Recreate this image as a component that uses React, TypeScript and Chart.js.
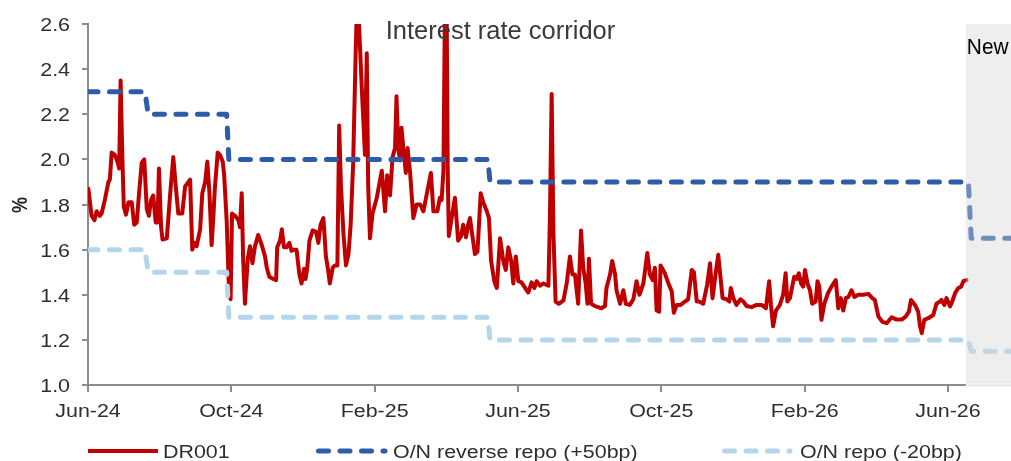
import React, { useEffect, useRef } from 'react';
import { Chart, registerables } from 'chart.js';

Chart.register(...registerables);

// x positions are months since 1 Jun 2024
const xTickMonths = [0, 4, 8, 12, 16, 20, 24];
const xTickLabels = ['Jun-24', 'Oct-24', 'Feb-25', 'Jun-25', 'Oct-25', 'Feb-26', 'Jun-26'];
const yTickValues = [1.0, 1.2, 1.4, 1.6, 1.8, 2.0, 2.2, 2.4, 2.6];
const xMaxMonth = 25.76;
const newPeriodStart = 24.5;

const seriesNames = ['DR001', 'O/N reverse repo (+50bp)', 'O/N repo (-20bp)'];

// DR001 (%), [month, value]
const dr001: [number, number][] = [
  [0.01, 1.87], [0.10, 1.75], [0.18, 1.73], [0.24, 1.77], [0.33, 1.75], [0.38, 1.76], [0.47, 1.82], [0.57, 1.90],
  [0.61, 1.91], [0.66, 2.03], [0.75, 2.02], [0.83, 1.985], [0.87, 1.96], [0.91, 2.35], [0.96, 2.00], [1.00, 1.79],
  [1.06, 1.755], [1.13, 1.81], [1.22, 1.81], [1.29, 1.71], [1.36, 1.72], [1.42, 1.84], [1.50, 1.985], [1.57, 2.00],
  [1.64, 1.78], [1.70, 1.75], [1.76, 1.82], [1.82, 1.84], [1.89, 1.72], [1.94, 1.72], [1.98, 1.96], [2.04, 1.70],
  [2.08, 1.645], [2.20, 1.65], [2.29, 1.84], [2.38, 2.01], [2.45, 1.88], [2.52, 1.76], [2.63, 1.76], [2.71, 1.88],
  [2.85, 1.91], [2.91, 1.60], [2.97, 1.63], [3.03, 1.615], [3.13, 1.69], [3.19, 1.85], [3.27, 1.90], [3.33, 1.99],
  [3.39, 1.85], [3.45, 1.62], [3.50, 1.75], [3.54, 1.87], [3.62, 2.03], [3.68, 2.02], [3.76, 1.99], [3.80, 1.93],
  [3.87, 1.73], [3.93, 1.44], [3.98, 1.38], [4.02, 1.76], [4.10, 1.75], [4.20, 1.73], [4.24, 1.70], [4.29, 1.85],
  [4.33, 1.56], [4.38, 1.36], [4.46, 1.56], [4.52, 1.615], [4.59, 1.54], [4.66, 1.615], [4.75, 1.665], [4.85, 1.62],
  [4.94, 1.57],
  [4.99, 1.52], [5.06, 1.48], [5.17, 1.47], [5.25, 1.465], [5.28, 1.61], [5.36, 1.64], [5.41, 1.69], [5.47, 1.61],
  [5.54, 1.61], [5.62, 1.63], [5.68, 1.595], [5.75, 1.60], [5.82, 1.60], [5.90, 1.49], [5.96, 1.45], [6.03, 1.515],
  [6.07, 1.47], [6.12, 1.52], [6.18, 1.64], [6.27, 1.685], [6.36, 1.68], [6.43, 1.63], [6.49, 1.71], [6.57, 1.74],
  [6.64, 1.57], [6.70, 1.51], [6.75, 1.45], [6.83, 1.52], [6.89, 1.53], [6.96, 1.53], [7.01, 2.15], [7.06, 1.88],
  [7.13, 1.67], [7.20, 1.53], [7.27, 1.58], [7.33, 1.71], [7.40, 1.98], [7.47, 2.47], [7.50, 2.65], [7.55, 2.65],
  [7.64, 2.32], [7.73, 2.02], [7.78, 2.47], [7.82, 1.88], [7.87, 1.65], [7.94, 1.76], [8.06, 1.83], [8.20, 1.95],
  [8.29, 1.77], [8.35, 1.93], [8.43, 1.84], [8.50, 2.01], [8.57, 2.05], [8.61, 2.28], [8.66, 2.05], [8.71, 1.995],
  [8.75, 2.14], [8.80, 2.05], [8.87, 1.94], [8.92, 2.05], [8.99, 1.94], [9.08, 1.74], [9.17, 1.80], [9.27, 1.80],
  [9.36, 1.77], [9.46, 1.85], [9.57, 1.94], [9.64, 1.77], [9.75, 1.77], [9.82, 1.83],
  [9.87, 1.82], [9.92, 1.95], [9.96, 2.65], [10.01, 2.65], [10.04, 1.95], [10.07, 1.66], [10.15, 1.74], [10.24, 1.83],
  [10.33, 1.64], [10.41, 1.66], [10.47, 1.71], [10.55, 1.655], [10.61, 1.71], [10.66, 1.74], [10.72, 1.67], [10.80, 1.58],
  [10.87, 1.59], [10.96, 1.85], [11.03, 1.81], [11.13, 1.77], [11.19, 1.74], [11.25, 1.55], [11.34, 1.46], [11.41, 1.43],
  [11.50, 1.65], [11.59, 1.55], [11.66, 1.51], [11.73, 1.61], [11.81, 1.55], [11.87, 1.45], [11.94, 1.57], [12.01, 1.46],
  [12.10, 1.455], [12.20, 1.43], [12.29, 1.41], [12.38, 1.455], [12.46, 1.43], [12.52, 1.46], [12.62, 1.44], [12.71, 1.45],
  [12.85, 1.44], [12.89, 1.73], [12.94, 2.29], [12.99, 1.67], [13.05, 1.37], [13.14, 1.36], [13.27, 1.375], [13.36, 1.45],
  [13.45, 1.57], [13.52, 1.49], [13.59, 1.49], [13.68, 1.36], [13.76, 1.685], [13.82, 1.52], [13.89, 1.45], [13.94, 1.36],
  [13.98, 1.56], [14.04, 1.36], [14.15, 1.35], [14.24, 1.345], [14.33, 1.34], [14.43, 1.35], [14.47, 1.43], [14.57, 1.49],
  [14.63, 1.55], [14.71, 1.49],
  [14.75, 1.42], [14.85, 1.36], [14.94, 1.42], [15.01, 1.36], [15.12, 1.355], [15.22, 1.38], [15.31, 1.46], [15.39, 1.40],
  [15.50, 1.45], [15.61, 1.585], [15.68, 1.49], [15.76, 1.465], [15.82, 1.52], [15.87, 1.33], [15.94, 1.325], [15.98, 1.53],
  [16.10, 1.495], [16.20, 1.45], [16.29, 1.415], [16.35, 1.32], [16.43, 1.355], [16.54, 1.355], [16.66, 1.37], [16.75, 1.38],
  [16.85, 1.51], [16.91, 1.50], [16.99, 1.37], [17.06, 1.37], [17.17, 1.36], [17.28, 1.445], [17.36, 1.54], [17.43, 1.385],
  [17.53, 1.51], [17.59, 1.577], [17.66, 1.465], [17.71, 1.385], [17.82, 1.38], [17.90, 1.37], [17.94, 1.43], [18.01, 1.385],
  [18.10, 1.355], [18.21, 1.38], [18.29, 1.37], [18.38, 1.35], [18.52, 1.345], [18.66, 1.355], [18.80, 1.355], [18.92, 1.34],
  [19.01, 1.46], [19.06, 1.355], [19.12, 1.26], [19.20, 1.33], [19.31, 1.355], [19.40, 1.40], [19.47, 1.495], [19.52, 1.37],
  [19.59, 1.385],
  [19.71, 1.48], [19.78, 1.47], [19.84, 1.495], [19.90, 1.45], [19.96, 1.436], [20.01, 1.51], [20.08, 1.45], [20.15, 1.42],
  [20.21, 1.36], [20.31, 1.37], [20.36, 1.46], [20.41, 1.436], [20.47, 1.289], [20.55, 1.36], [20.66, 1.41], [20.75, 1.436],
  [20.87, 1.465], [20.94, 1.34], [21.01, 1.385], [21.08, 1.33], [21.15, 1.385], [21.22, 1.39], [21.31, 1.42], [21.39, 1.39],
  [21.50, 1.40], [21.64, 1.40], [21.78, 1.404], [21.89, 1.385], [21.96, 1.377], [22.06, 1.303], [22.17, 1.28], [22.29, 1.274],
  [22.43, 1.30], [22.57, 1.29], [22.71, 1.29], [22.82, 1.303], [22.91, 1.325], [22.97, 1.377], [23.08, 1.355], [23.17, 1.325],
  [23.22, 1.26], [23.27, 1.23], [23.34, 1.289], [23.45, 1.296], [23.59, 1.31], [23.68, 1.36], [23.78, 1.37], [23.82, 1.377],
  [23.90, 1.355], [23.96, 1.385], [24.06, 1.348], [24.12, 1.37], [24.20, 1.407], [24.29, 1.43], [24.37, 1.436], [24.43, 1.46],
  [24.52, 1.465],
];

// O/N reverse repo (+50bp), [month, value]
const reverseRepo: [number, number][] = [
  [0, 2.3], [1.59, 2.3], [1.68, 2.2], [3.87, 2.2], [3.93, 2.0], [11.16, 2.0], [11.22, 1.9], [24.57, 1.9], [24.65, 1.65], [25.76, 1.65],
];

// O/N repo (-20bp), [month, value]
const onRepo: [number, number][] = [
  [0, 1.6], [1.59, 1.6], [1.68, 1.5], [3.87, 1.5], [3.93, 1.3], [11.16, 1.3], [11.22, 1.2], [24.57, 1.2], [24.65, 1.15], [25.76, 1.15],
];

const RED = '#C00000';
const BLUE = '#2E5CA8';
const LIGHT = '#B4D5EB';
const AXIS = '#8C8C8C';
const DASH = [10, 11.5];
const FONT = '"Liberation Sans", Arial, sans-serif';

function drawText(
  ctx: CanvasRenderingContext2D,
  s: string,
  x: number,
  y: number,
  size: number,
  color: string,
  align: CanvasTextAlign,
  sx: number,
  bold = false,
) {
  ctx.save();
  ctx.translate(x, y);
  ctx.scale(sx, 1);
  ctx.font = `${bold ? 'bold ' : ''}${size}px ${FONT}`;
  ctx.fillStyle = color;
  ctx.textAlign = align;
  ctx.textBaseline = 'alphabetic';
  ctx.fillText(s, 0, 0);
  ctx.restore();
}

const decoPlugin = {
  id: 'deco',
  afterDatasetsDraw(chart: any) {
    const { ctx, chartArea: a, scales } = chart;
    const x0 = scales.x.getPixelForValue(newPeriodStart);
    ctx.save();
    ctx.fillStyle = 'rgba(212,212,212,0.4)';
    ctx.fillRect(x0, a.top, a.right - x0, a.bottom - a.top - 1.5);
    ctx.fillStyle = '#EEEEEE';
    ctx.fillRect(x0, a.bottom - 1.5, a.right - x0, 3.5);
    ctx.restore();
  },
  afterDraw(chart: any) {
    const { ctx, chartArea: a, scales } = chart;
    const sx = 1.19;
    // y tick labels
    yTickValues.forEach((v) => {
      drawText(ctx, v.toFixed(1), a.left - 18, scales.y.getPixelForValue(v) + 7, 18, '#2E2E2E', 'right', sx);
    });
    // x tick labels
    xTickMonths.forEach((m, i) => {
      drawText(ctx, xTickLabels[i], scales.x.getPixelForValue(m), 417, 18, '#2E2E2E', 'center', sx);
    });
    // y axis title
    ctx.save();
    ctx.translate(27, 205);
    ctx.scale(1.2, 1);
    ctx.rotate(-Math.PI / 2);
    ctx.font = `bold 18px ${FONT}`;
    ctx.fillStyle = '#262626';
    ctx.textAlign = 'center';
    ctx.textBaseline = 'alphabetic';
    ctx.fillText('%', 0, 0);
    ctx.restore();
    // title
    drawText(ctx, 'Interest rate corridor', 500.5, 39, 25.5, '#3A3A3A', 'center', 1.0);
    // "New" label
    drawText(ctx, 'New', scales.x.getPixelForValue(newPeriodStart) + 1, 54, 21.5, '#000000', 'left', 0.97);
    // legend
    const ly = 451;
    const items = [
      { x0: 88, x1: 158, tx: 163, color: RED, dash: [] as number[] },
      { x0: 316, x1: 385, tx: 393, color: BLUE, dash: DASH },
      { x0: 722, x1: 790, tx: 800, color: LIGHT, dash: DASH },
    ];
    items.forEach((it, i) => {
      ctx.save();
      ctx.strokeStyle = it.color;
      ctx.lineWidth = i === 0 ? 4 : 5;
      ctx.lineCap = i === 0 ? 'butt' : 'round';
      ctx.setLineDash(it.dash);
      ctx.beginPath();
      ctx.moveTo(it.x0 + (i === 0 ? 0 : 2.5), ly);
      ctx.lineTo(it.x1, ly);
      ctx.stroke();
      ctx.restore();
      drawText(ctx, seriesNames[i], it.tx, ly + 7, 18, '#2E2E2E', 'left', sx);
    });
  },
};

export default function App() {
  const ref = useRef<HTMLCanvasElement | null>(null);

  useEffect(() => {
    if (!ref.current) return;
    const toXY = (arr: [number, number][]) => arr.map(([m, v]) => ({ x: m, y: v }));
    const chart = new Chart(ref.current, {
      type: 'line',
      data: {
        datasets: [
          {
            label: seriesNames[1],
            data: toXY(reverseRepo),
            borderColor: BLUE,
            borderWidth: 5,
            borderDash: DASH,
            borderCapStyle: 'round',
            borderJoinStyle: 'round',
            pointRadius: 0,
            tension: 0,
            fill: false,
          },
          {
            label: seriesNames[2],
            data: toXY(onRepo),
            borderColor: LIGHT,
            borderWidth: 5,
            borderDash: DASH,
            borderCapStyle: 'round',
            borderJoinStyle: 'round',
            pointRadius: 0,
            tension: 0,
            fill: false,
          },
          {
            label: seriesNames[0],
            data: toXY(dr001),
            borderColor: RED,
            borderWidth: 4,
            borderJoinStyle: 'round',
            borderCapStyle: 'round',
            pointRadius: 0,
            tension: 0,
            fill: false,
          },
        ],
      } as any,
      options: {
        animation: false,
        responsive: false,
        devicePixelRatio: 1,
        events: [],
        layout: { padding: { top: 24, left: 0, right: 0, bottom: 0 } },
        plugins: {
          legend: { display: false },
          tooltip: { enabled: false },
          title: { display: false },
        },
        scales: {
          x: {
            type: 'linear',
            min: 0,
            max: xMaxMonth,
            afterBuildTicks: (s: any) => {
              s.ticks = xTickMonths.map((v) => ({ value: v }));
            },
            afterFit: (s: any) => {
              s.height = 76;
            },
            ticks: {
              color: 'rgba(0,0,0,0)',
              font: { size: 18 },
              autoSkip: false,
              maxRotation: 0,
              callback: (_v: any, i: number) => xTickLabels[i] ?? '',
            },
            grid: {
              display: true,
              drawOnChartArea: false,
              drawTicks: true,
              tickLength: 7,
              color: AXIS,
              lineWidth: 2,
            },
            border: { display: true, color: AXIS, width: 2 },
          },
          y: {
            type: 'linear',
            min: 1.0,
            max: 2.6,
            afterBuildTicks: (s: any) => {
              s.ticks = yTickValues.map((v) => ({ value: v }));
            },
            afterFit: (s: any) => {
              s.width = 88;
            },
            ticks: {
              color: 'rgba(0,0,0,0)',
              font: { size: 18 },
              callback: (v: any) => Number(v).toFixed(1),
            },
            grid: {
              display: true,
              drawOnChartArea: false,
              drawTicks: true,
              tickLength: 6,
              color: AXIS,
              lineWidth: 2,
            },
            border: { display: true, color: AXIS, width: 2 },
          },
        },
      } as any,
      plugins: [decoPlugin],
    });
    return () => chart.destroy();
  }, []);

  return (
    <div style={{ position: 'fixed', left: 0, top: 0, width: 1011, height: 461, background: '#ffffff' }}>
      <canvas ref={ref} width={1011} height={461} style={{ display: 'block', width: 1011, height: 461 }} />
    </div>
  );
}
